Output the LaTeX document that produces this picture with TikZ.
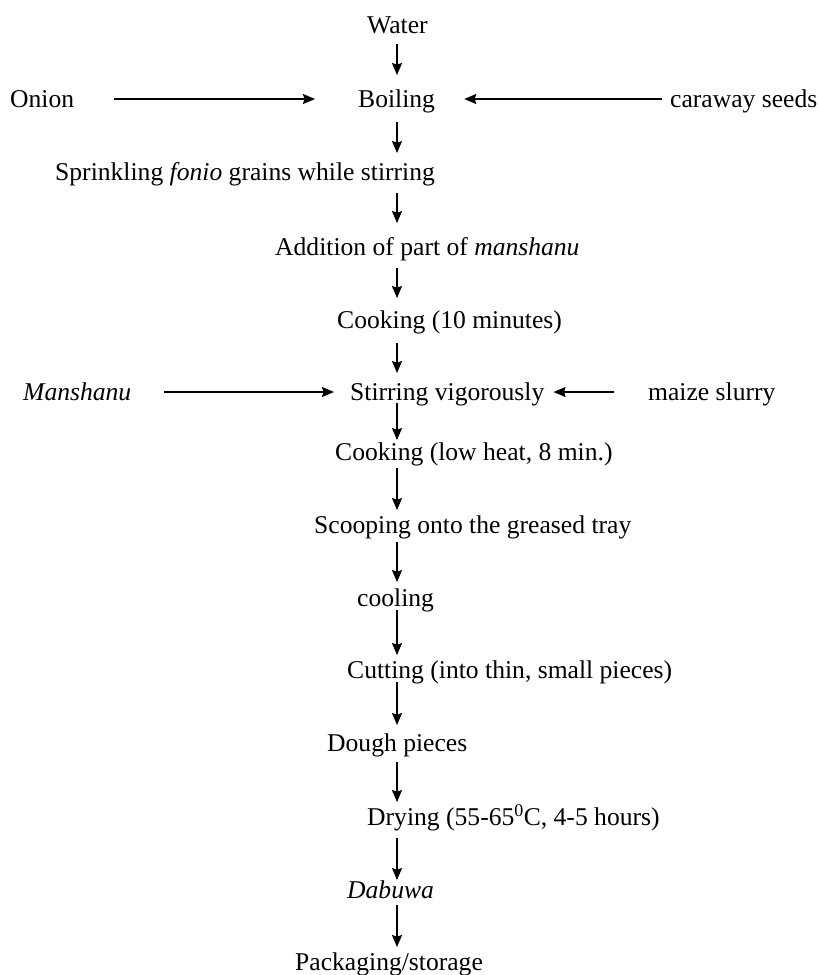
\documentclass[tikz,border=0pt]{standalone}
\usepackage{fontspec}
\setmainfont{Liberation Serif}
\usetikzlibrary{arrows.meta}

\begin{document}
\begin{tikzpicture}[x=1pt, y=-1pt,
    txt/.style={anchor=west, inner sep=5pt, text height=22pt, text depth=5.5pt,
      font=\fontsize{25.6}{30}\selectfont},
    flow/.style={line width=1.4pt, -{Stealth[length=12pt, width=10pt, inset=1.5pt]}}]
  \useasboundingbox (0,0) rectangle (818,975);
  \coordinate (spine) at (397,0);
  % main line
  \node[txt] (water) at (362,25) {Water};
  \node[txt] (boil) at (353,99) {Boiling};
  \node[txt] (sprinkle) at (50,172) {Sprinkling \textit{fonio} grains while stirring};
  \node[txt] (addition) at (270,247) {Addition of part of \textit{manshanu}};
  \node[txt] (cookA) at (332,320) {Cooking (10 minutes)};
  \node[txt] (stir) at (345,392) {Stirring vigorously};
  \node[txt] (cookB) at (330,452) {Cooking (low heat, 8 min.)};
  \node[txt] (scoop) at (309,525) {Scooping onto the greased tray};
  \node[txt] (cool) at (352,598) {cooling};
  \node[txt] (cut) at (342,670) {Cutting (into thin, small pieces)};
  \node[txt] (dough) at (322,743) {Dough pieces};
  \node[txt] (dry) at (362,817) {Drying (55-65\textsuperscript{0}C, 4-5 hours)};
  \node[txt] (dabuwa) at (342,890) {\textit{Dabuwa}};
  \node[txt] (pack) at (290,962) {Packaging/storage};
  % side inputs
  \node[txt] (onion) at (5,99) {Onion};
  \node[txt] (caraway) at (665,99) {caraway seeds};
  \node[txt] (mansh) at (18,392) {\textit{Manshanu}};
  \node[txt] (maize) at (643,392) {maize slurry};

  \foreach \a/\b/\s/\e in {water/boil/0/5, boil/sprinkle/4/0, sprinkle/addition/2/5,
      addition/cookA/2/3, cookA/stir/4/0, stir/cookB/-8/-7, cookB/scoop/-3/-4,
      scoop/cool/-2/-3, cool/cut/-7/-4, cut/dough/-7/-1, dough/dry/0/-4,
      dry/dabuwa/2/-9, dabuwa/pack/-4/-4}
    \draw[flow, shorten <=\s pt, shorten >=\e pt] (\a.south -| spine) -- (\b.north -| spine);

  \draw[flow, shorten <=35pt, shorten >=38pt] (onion) -- (boil);
  \draw[flow, shorten <=3pt, shorten >=24pt] (caraway) -- (boil);
  \draw[flow, shorten <=28pt, shorten >=11pt] (mansh) -- (stir);
  \draw[flow, shorten <=29pt, shorten >=4pt] (maize) -- (stir);
\end{tikzpicture}
\end{document}
